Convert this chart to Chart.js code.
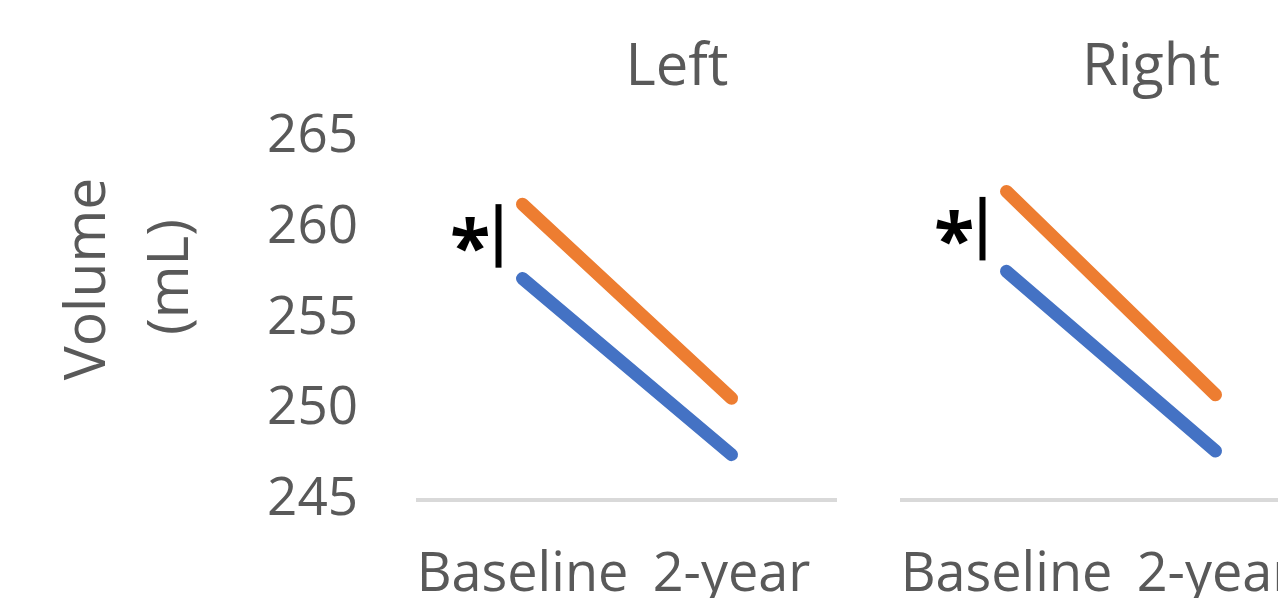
<!DOCTYPE html>
<html>
<head>
<meta charset="utf-8">
<script src="https://cdn.jsdelivr.net/npm/chart.js@4.4.1/dist/chart.umd.min.js"></script>
<style>
  html, body { margin: 0; padding: 0; background: #ffffff; overflow: hidden; width: 1278px; height: 598px; }
  #wrap { position: relative; width: 1278px; height: 598px; overflow: hidden; }
  canvas { position: absolute; top: 0; }
  #cLeft { left: 0; }
  #cRight { left: 880px; }
</style>
</head>
<body>
<div id="wrap">
  <canvas id="cLeft" width="860" height="640"></canvas>
  <canvas id="cRight" width="460" height="640"></canvas>
</div>
<script>
// ---- data ----
const categories = ['Baseline', '2-year'];
const panelTitles = ['Left', 'Right'];
const leftBlue = [257.2, 247.5];
const leftOrange = [261.3, 250.6];
const rightBlue = [257.6, 247.7];
const rightOrange = [262.0, 250.8];
const yMin = 245;
const yMax = 265;
const yStep = 5;
const yTitleLines = ['Volume', '(mL)'];
const sigLeft = [257.8, 261.3];
const sigRight = [258.2, 261.7];
const sigMark = '*';

const BLUE = '#4472C4';
const ORANGE = '#ED7D31';
const TEXT = '#595959';
const FONT = '"Open Sans", "Noto Sans", sans-serif';

const overlay = {
  id: 'overlay',
  afterDatasetsDraw(chart, args, opts) {
    const { ctx, scales: { x, y } } = chart;
    ctx.save();
    // panel title
    ctx.font = '58px ' + FONT;
    ctx.fillStyle = TEXT;
    ctx.textAlign = 'center';
    ctx.textBaseline = 'alphabetic';
    ctx.fillText(opts.title, opts.titleX, 85);
    // significance bar
    const bx = x.getPixelForValue(0) - 24;
    const yTop = y.getPixelForValue(opts.sig[1]);
    const yBot = y.getPixelForValue(opts.sig[0]);
    ctx.strokeStyle = '#000000';
    ctx.lineWidth = 6;
    ctx.lineCap = 'butt';
    ctx.beginPath();
    ctx.moveTo(bx, yTop);
    ctx.lineTo(bx, yBot);
    ctx.stroke();
    // asterisk, ink centred left of the bar
    ctx.font = 'bold 74px ' + FONT;
    ctx.fillStyle = '#000000';
    ctx.textAlign = 'left';
    ctx.textBaseline = 'alphabetic';
    const m = ctx.measureText(sigMark);
    const inkW = m.actualBoundingBoxLeft + m.actualBoundingBoxRight;
    const inkH = m.actualBoundingBoxAscent + m.actualBoundingBoxDescent;
    const cx = bx - 28;
    const cy = (yTop + yBot) / 2 - 1;
    ctx.fillText(sigMark, cx - inkW / 2 + m.actualBoundingBoxLeft, cy + inkH / 2 - m.actualBoundingBoxDescent);
    // y-axis title (left panel only)
    if (opts.yTitle) {
      ctx.fillStyle = TEXT;
      ctx.font = '57px ' + FONT;
      ctx.textAlign = 'center';
      ctx.textBaseline = 'alphabetic';
      const baseX = [105, 188];
      const midY = [279, 277];
      opts.yTitle.forEach((line, i) => {
        ctx.save();
        ctx.translate(baseX[i], midY[i]);
        ctx.rotate(-Math.PI / 2);
        ctx.fillText(line, 0, 0);
        ctx.restore();
      });
    }
    ctx.restore();
  }
};

function makeChart(id, blue, orange, showY, padLeft, padRight, title, titleX, sig) {
  return new Chart(document.getElementById(id), {
    type: 'line',
    data: {
      labels: categories,
      datasets: [
        { label: 'Group 1', data: blue, borderColor: BLUE, backgroundColor: BLUE },
        { label: 'Group 2', data: orange, borderColor: ORANGE, backgroundColor: ORANGE }
      ]
    },
    options: {
      responsive: false,
      animation: false,
      devicePixelRatio: 1,
      layout: { padding: { top: 137, left: padLeft, right: padRight, bottom: 0 } },
      elements: {
        line: { borderWidth: 13, borderCapStyle: 'round', borderJoinStyle: 'round', tension: 0 },
        point: { radius: 0, hoverRadius: 0 }
      },
      datasets: { line: { clip: false } },
      plugins: {
        legend: { display: false },
        title: { display: false },
        tooltip: { enabled: false },
        overlay: { title: title, titleX: titleX, sig: sig, yTitle: showY ? yTitleLines : null }
      },
      scales: {
        x: {
          type: 'category',
          offset: true,
          grid: { display: false, drawTicks: false },
          border: { display: true, color: '#D9D9D9', width: 4 },
          ticks: { color: TEXT, font: { family: FONT, size: 54 }, padding: 43, maxRotation: 0, autoSkip: false },
          afterFit: (s) => { s.height = 140; s.paddingLeft = 0; s.paddingRight = 0; }
        },
        y: {
          display: showY,
          min: yMin,
          max: yMax,
          grid: { display: false, drawTicks: false },
          border: { display: false },
          ticks: { stepSize: yStep, color: TEXT, font: { family: FONT, size: 53 }, padding: 60 },
          afterFit: (s) => { s.width = showY ? 418 : 0; s.paddingTop = 0; s.paddingBottom = 0; }
        }
      }
    },
    plugins: [overlay]
  });
}

makeChart('cLeft', leftBlue, leftOrange, true, 0, 860 - 836, panelTitles[0], 677, sigLeft);
makeChart('cRight', rightBlue, rightOrange, false, 22, 460 - 22 - 418, panelTitles[1], 1151 - 880, sigRight);
</script>
</body>
</html>
